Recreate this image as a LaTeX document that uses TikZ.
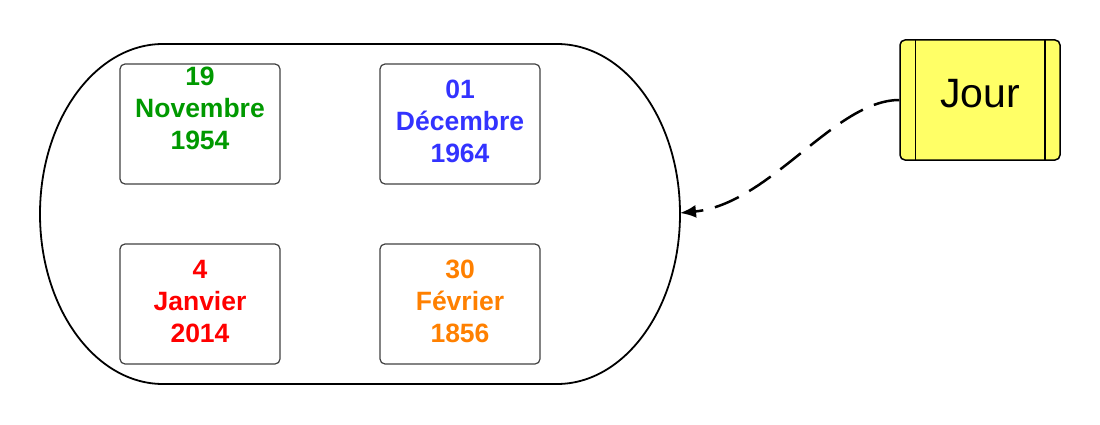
\documentclass[tikz,border=0pt]{standalone}
\usepackage{fontspec}
\setmainfont{Liberation Sans}
\usetikzlibrary{arrows.meta}
\definecolor{vert}{HTML}{009900}
\definecolor{bleu}{HTML}{3333FF}
\definecolor{rouge}{HTML}{FF0000}
\definecolor{orangeF}{HTML}{FF8000}
\definecolor{jaune}{HTML}{FFFF66}
\begin{document}
\begin{tikzpicture}[x=1pt,y=1pt,
        carte/.style={draw=black!75, line width=1.2pt, rounded corners=5pt,
            minimum width=160pt, minimum height=120pt, align=center,
            font=\bfseries\fontsize{26.5}{32}\selectfont, text depth=6pt},
        fleche/.style={line width=2.5pt, dash pattern=on 26pt off 12pt,
            -{Latex[length=16pt,width=13pt]}}]
        \useasboundingbox (0,0) rectangle (1100,424);

        % l'ensemble
        \path[draw,line width=1.8pt] (163,380) -- (557,380)
            arc[start angle=90, end angle=-90, x radius=123, y radius=170]
            -- (163,40)
            arc[start angle=270, end angle=90, x radius=123, y radius=170] -- cycle;
        \coordinate (groupe) at (680,211);

        \node[carte, text=vert, inner ysep=1pt, text height=81pt, text depth=30pt] (d1) at (200,300) {19\\Novembre\\1954};
        \node[carte, text=bleu] (d2) at (460,300) {01\\Décembre\\1964};
        \node[carte, text=rouge] (d3) at (200,120) {4\\Janvier\\2014};
        \node[carte, text=orangeF] (d4) at (460,120) {30\\Février\\1856};

        % le type
        \node[draw, line width=1.5pt, fill=jaune, rounded corners=5pt,
            minimum width=160pt, minimum height=120pt, text depth=13pt,
            font=\fontsize{41}{48}\selectfont] (jour) at (980,324) {Jour};
        \path[draw,line width=1.5pt] ([xshift=16pt]jour.north west) -- ([xshift=16pt]jour.south west);
        \path[draw,line width=1.5pt] ([xshift=-16pt]jour.north east) -- ([xshift=-16pt]jour.south east);

        \path[draw,fleche] (jour.west) .. controls (835,324) and (770,220) .. (groupe);
    \end{tikzpicture}
\end{document}
